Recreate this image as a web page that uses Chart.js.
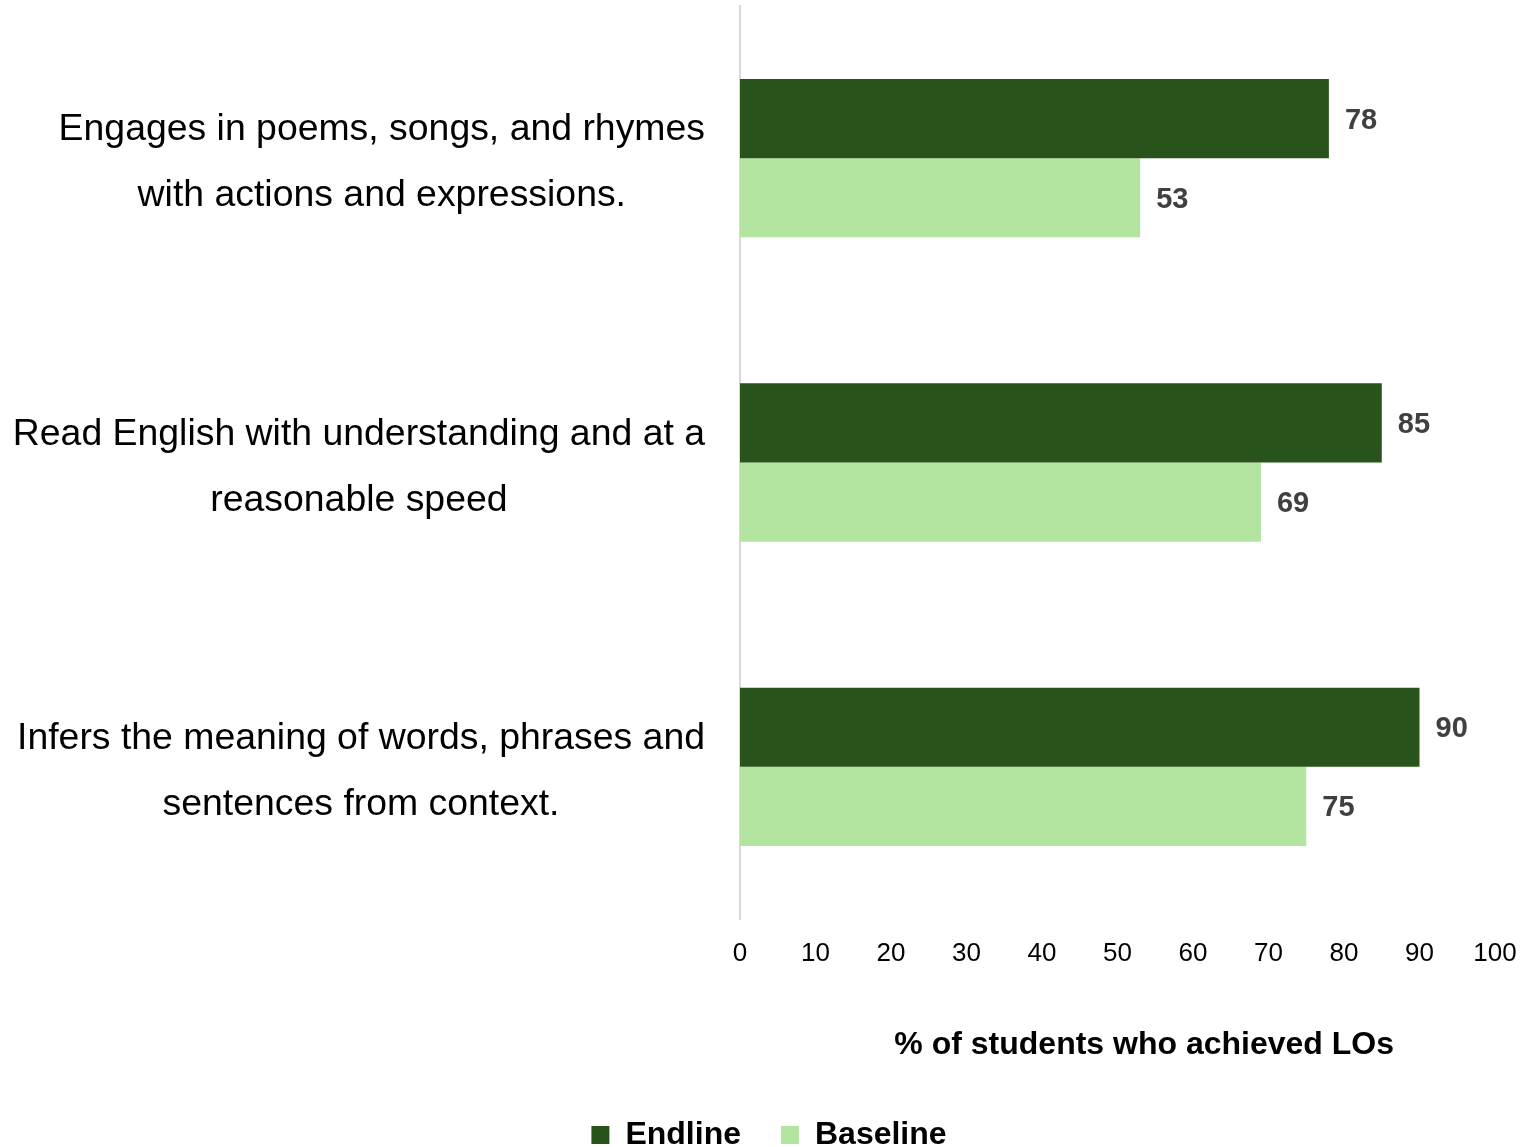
<!DOCTYPE html>
<html>
<head>
<meta charset="utf-8">
<script src="https://cdn.jsdelivr.net/npm/chart.js@4"></script>
<style>
  html, body { margin: 0; padding: 0; background: #ffffff; }
  #wrap { width: 1522px; height: 1147px; }
</style>
</head>
<body>
<div id="wrap"><canvas id="c" width="1522" height="1147"></canvas></div>
<script>
const categories = [
  ["Engages in poems, songs, and rhymes", "with actions and expressions."],
  ["Read English with understanding and at a", "reasonable speed"],
  ["Infers the meaning of words, phrases and", "sentences from context."]
];
const seriesNames = ["Endline", "Baseline"];
const endlineValues = [78, 85, 90];
const baselineValues = [53, 69, 75];
const seriesColors = ["#28531a", "#b3e5a1"];
const xAxisTitle = "% of students who achieved LOs";

const FONT = "'Liberation Sans', Arial, Helvetica, sans-serif";

const yLabelPlugin = {
  id: 'yLabels',
  afterDraw(chart) {
    const ys = chart.scales.y;
    const ctx = chart.ctx;
    ctx.save();
    ctx.font = "37.4px " + FONT;
    ctx.fillStyle = "#000000";
    ctx.textAlign = "center";
    ctx.textBaseline = "middle";
    const right = ys.right - 35;
    const lh = 66;
    categories.forEach((lines, i) => {
      const yc = ys.getPixelForTick(i) + 5;
      const maxW = Math.max(...lines.map(l => ctx.measureText(l).width));
      const cx = right - maxW / 2;
      lines.forEach((l, j) => {
        ctx.fillText(l, cx, yc + (j - (lines.length - 1) / 2) * lh);
      });
    });
    ctx.restore();
  }
};

const valueLabelPlugin = {
  id: 'valueLabels',
  afterDatasetsDraw(chart) {
    const ctx = chart.ctx;
    ctx.save();
    ctx.font = "bold 29px " + FONT;
    ctx.fillStyle = "#404040";
    ctx.textAlign = "left";
    ctx.textBaseline = "middle";
    chart.data.datasets.forEach((ds, di) => {
      const meta = chart.getDatasetMeta(di);
      meta.data.forEach((bar, i) => {
        ctx.fillText(String(ds.data[i]), bar.x + 16, bar.y + 2);
      });
    });
    ctx.restore();
  }
};

new Chart(document.getElementById('c'), {
  type: 'bar',
  data: {
    labels: categories,
    datasets: [
      { label: seriesNames[0], data: endlineValues, backgroundColor: seriesColors[0],
        categoryPercentage: 0.52, barPercentage: 1.0 },
      { label: seriesNames[1], data: baselineValues, backgroundColor: seriesColors[1],
        categoryPercentage: 0.52, barPercentage: 1.0 }
    ]
  },
  options: {
    indexAxis: 'y',
    responsive: false,
    animation: false,
    devicePixelRatio: 1,
    layout: { padding: { top: 6, right: 27, bottom: -14, left: 43 } },
    scales: {
      x: {
        min: 0, max: 100,
        grid: { display: false, drawTicks: true, tickLength: 14 },
        border: { display: false },
        ticks: { stepSize: 10, padding: 5, color: "#000000", font: { family: FONT, size: 26 } },
        title: { display: true, text: "      " + xAxisTitle, color: "#000000",
                 font: { family: FONT, size: 32, weight: 'bold' }, padding: { top: 0, bottom: 15 } },
        afterFit(scale) { scale.height = 160; }
      },
      y: {
        grid: { display: false, drawTicks: false },
        border: { display: true, color: "#d9d9d9", width: 2 },
        ticks: { display: false },
        afterFit(scale) { scale.width = 697; }
      }
    },
    plugins: {
      legend: {
        position: 'bottom',
        labels: {
          color: "#000000",
          font: { family: FONT, size: 32, weight: 'bold' },
          boxWidth: 18, boxHeight: 18, padding: 40
        }
      },
      tooltip: { enabled: false }
    }
  },
  plugins: [yLabelPlugin, valueLabelPlugin]
});
</script>
</body>
</html>
